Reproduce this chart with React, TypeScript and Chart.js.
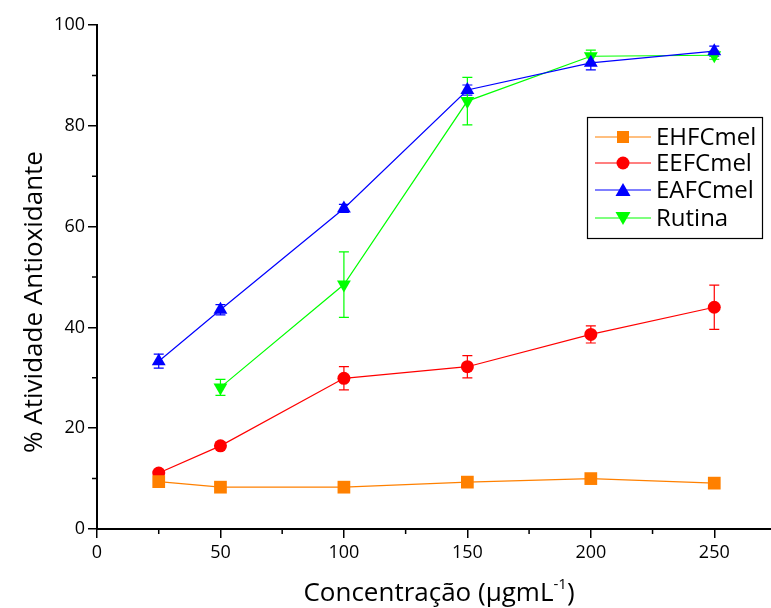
import React, { useEffect, useRef } from 'react';
import { Chart, registerables } from 'chart.js';

Chart.register(...registerables);

// ---- data ----
const concentrations = [25, 50, 100, 150, 200, 250];
const seriesNames = ['EHFCmel', 'EEFCmel', 'EAFCmel', 'Rutina'];
const ehfcmel = [9.4, 8.3, 8.3, 9.3, 10.0, 9.1];
const ehfcmelErr = [0.4, 0.3, 0.3, 0.3, 0.4, 0.3];
const eefcmel = [11.1, 16.5, 29.9, 32.2, 38.6, 44.0];
const eefcmelErr = [0.6, 0.4, 2.3, 2.2, 1.7, 4.4];
const eafcmel = [33.3, 43.5, 63.6, 87.1, 92.5, 94.8];
const eafcmelErr = [1.4, 1.0, 0.8, 1.0, 1.4, 1.0];
const rutina = [null, 28.1, 48.5, 84.9, 93.8, 94.0];
const rutinaErr = [0, 1.6, 6.5, 4.7, 1.2, 0.8];
const xTicks = [0, 50, 100, 150, 200, 250];
const xMinorTicks = [25, 75, 125, 175, 225, 275];
const yTicks = [0, 20, 40, 60, 80, 100];
const yMinorTicks = [10, 30, 50, 70, 90];

const colors = ['#FF8000', '#FF0000', '#0000FF', '#00FF00'];
const markers = ['rect', 'circle', 'triangle', 'triangle'];
const rotations = [0, 0, 0, 180];
const radii = [9, 6.5, 8, 8];
const FONT = "'Open Sans', 'DejaVu Sans', sans-serif";

const values = [ehfcmel, eefcmel, eafcmel, rutina];
const errors = [ehfcmelErr, eefcmelErr, eafcmelErr, rutinaErr];

const errorBarPlugin = {
  id: 'errorBars',
  beforeDatasetsDraw(chart: any) {
    const ctx = chart.ctx;
    const xs = chart.scales.x;
    const ys = chart.scales.y;
    values.forEach((vals, di) => {
      ctx.save();
      ctx.strokeStyle = colors[di];
      ctx.lineWidth = 1.2;
      concentrations.forEach((c, i) => {
        const v = vals[i];
        const e = errors[di][i];
        if (v == null || !e) return;
        const x = xs.getPixelForValue(c);
        const yTop = ys.getPixelForValue(v + e);
        const yBot = ys.getPixelForValue(v - e);
        ctx.beginPath();
        ctx.moveTo(x, yTop);
        ctx.lineTo(x, yBot);
        ctx.moveTo(x - 5, yTop);
        ctx.lineTo(x + 5, yTop);
        ctx.moveTo(x - 5, yBot);
        ctx.lineTo(x + 5, yBot);
        ctx.stroke();
      });
      ctx.restore();
    });
  },
};

const decorPlugin = {
  id: 'decor',
  afterDraw(chart: any) {
    const ctx = chart.ctx;
    const xs = chart.scales.x;
    const ys = chart.scales.y;
    const area = chart.chartArea;
    ctx.save();
    // minor ticks
    ctx.strokeStyle = '#000';
    ctx.lineWidth = 1.5;
    ctx.beginPath();
    xMinorTicks.forEach((v) => {
      const px = xs.getPixelForValue(v);
      ctx.moveTo(px, area.bottom);
      ctx.lineTo(px, area.bottom + 5);
    });
    yMinorTicks.forEach((v) => {
      const py = ys.getPixelForValue(v);
      ctx.moveTo(area.left, py);
      ctx.lineTo(area.left - 5, py);
    });
    ctx.stroke();

    // axis titles
    ctx.fillStyle = '#000';
    ctx.font = `26px ${FONT}`;
    ctx.textBaseline = 'alphabetic';
    const main = 'Concentração (µgmL';
    const sup = '-1';
    const close = ')';
    const wMain = ctx.measureText(main).width;
    ctx.font = `15px ${FONT}`;
    const wSup = ctx.measureText(sup).width;
    ctx.font = `26px ${FONT}`;
    const wClose = ctx.measureText(close).width;
    const total = wMain + wSup + wClose;
    const x0 = 439 - total / 2;
    const base = 601;
    ctx.textAlign = 'left';
    ctx.fillText(main, x0, base);
    ctx.font = `15px ${FONT}`;
    ctx.fillText(sup, x0 + wMain, base - 12);
    ctx.font = `26px ${FONT}`;
    ctx.fillText(close, x0 + wMain + wSup, base);

    ctx.translate(42, 302);
    ctx.rotate(-Math.PI / 2);
    ctx.textAlign = 'center';
    ctx.fillText('% Atividade Antioxidante', 0, 0);
    ctx.restore();

    // legend
    ctx.save();
    const lx = 587, ly = 117, lw = 175, lh = 121;
    ctx.fillStyle = '#fff';
    ctx.fillRect(lx, ly, lw, lh);
    ctx.strokeStyle = '#000';
    ctx.lineWidth = 1.2;
    ctx.strokeRect(lx + 0.5, ly + 0.5, lw, lh);
    const rowY = [137, 163, 190, 218];
    seriesNames.forEach((name, i) => {
      const y = rowY[i];
      ctx.strokeStyle = colors[i];
      ctx.lineWidth = 1.2;
      ctx.beginPath();
      ctx.moveTo(595, y);
      ctx.lineTo(651, y);
      ctx.stroke();
      ctx.fillStyle = colors[i];
      ctx.beginPath();
      if (i === 0) {
        ctx.rect(617, y - 6, 12, 12);
      } else if (i === 1) {
        ctx.arc(623, y, 6.5, 0, Math.PI * 2);
      } else if (i === 2) {
        ctx.moveTo(623, y - 7);
        ctx.lineTo(630.5, y + 6);
        ctx.lineTo(615.5, y + 6);
        ctx.closePath();
      } else {
        ctx.moveTo(623, y + 7);
        ctx.lineTo(630.5, y - 6);
        ctx.lineTo(615.5, y - 6);
        ctx.closePath();
      }
      ctx.fill();
      ctx.fillStyle = '#000';
      ctx.font = `24px ${FONT}`;
      ctx.textAlign = 'left';
      ctx.textBaseline = 'middle';
      ctx.fillText(name, 656, y + 1);
    });
    ctx.restore();
  },
};

export default function App() {
  const ref = useRef<HTMLCanvasElement | null>(null);
  useEffect(() => {
    if (!ref.current) return;
    const datasets = values.map((vals, di) => ({
      label: seriesNames[di],
      data: concentrations
        .map((x, i) => ({ x, y: vals[i] }))
        .filter((p) => p.y !== null),
      borderColor: colors[di],
      backgroundColor: colors[di],
      borderWidth: 1.2,
      pointStyle: markers[di],
      rotation: rotations[di],
      pointRadius: radii[di],
      pointBorderWidth: 0,
      tension: 0,
      fill: false,
    }));
    const chart = new Chart(ref.current, {
      type: 'line',
      data: { datasets },
      options: {
        responsive: false,
        animation: false,
        layout: { padding: { left: 0, top: 25, right: 4, bottom: 0 } },
        plugins: { legend: { display: false }, tooltip: { enabled: false } },
        scales: {
          x: {
            type: 'linear',
            min: 0,
            max: 275,
            afterBuildTicks: (s: any) => {
              s.ticks = xTicks.map((v) => ({ value: v }));
            },
            afterFit: (s: any) => {
              s.height = 79;
            },
            ticks: { color: '#000', font: { family: FONT, size: 18 }, padding: 4 },
            grid: { drawOnChartArea: false, drawTicks: true, tickLength: 9, color: '#000', lineWidth: 1.5 },
            border: { display: true, color: '#000', width: 2 },
          },
          y: {
            type: 'linear',
            min: 0,
            max: 100,
            afterBuildTicks: (s: any) => {
              s.ticks = yTicks.map((v) => ({ value: v }));
            },
            afterFit: (s: any) => {
              s.width = 97;
            },
            ticks: { color: '#000', font: { family: FONT, size: 18 }, padding: 3 },
            grid: { drawOnChartArea: false, drawTicks: true, tickLength: 9, color: '#000', lineWidth: 1.5 },
            border: { display: true, color: '#000', width: 2 },
          },
        },
      },
      plugins: [errorBarPlugin, decorPlugin],
    });
    return () => chart.destroy();
  }, []);
  return (
    <div style={{ position: 'fixed', left: 0, top: 0, width: 771, height: 608, overflow: 'hidden', background: '#fff' }}>
      <canvas ref={ref} width={785} height={608} style={{ display: 'block' }} />
    </div>
  );
}
